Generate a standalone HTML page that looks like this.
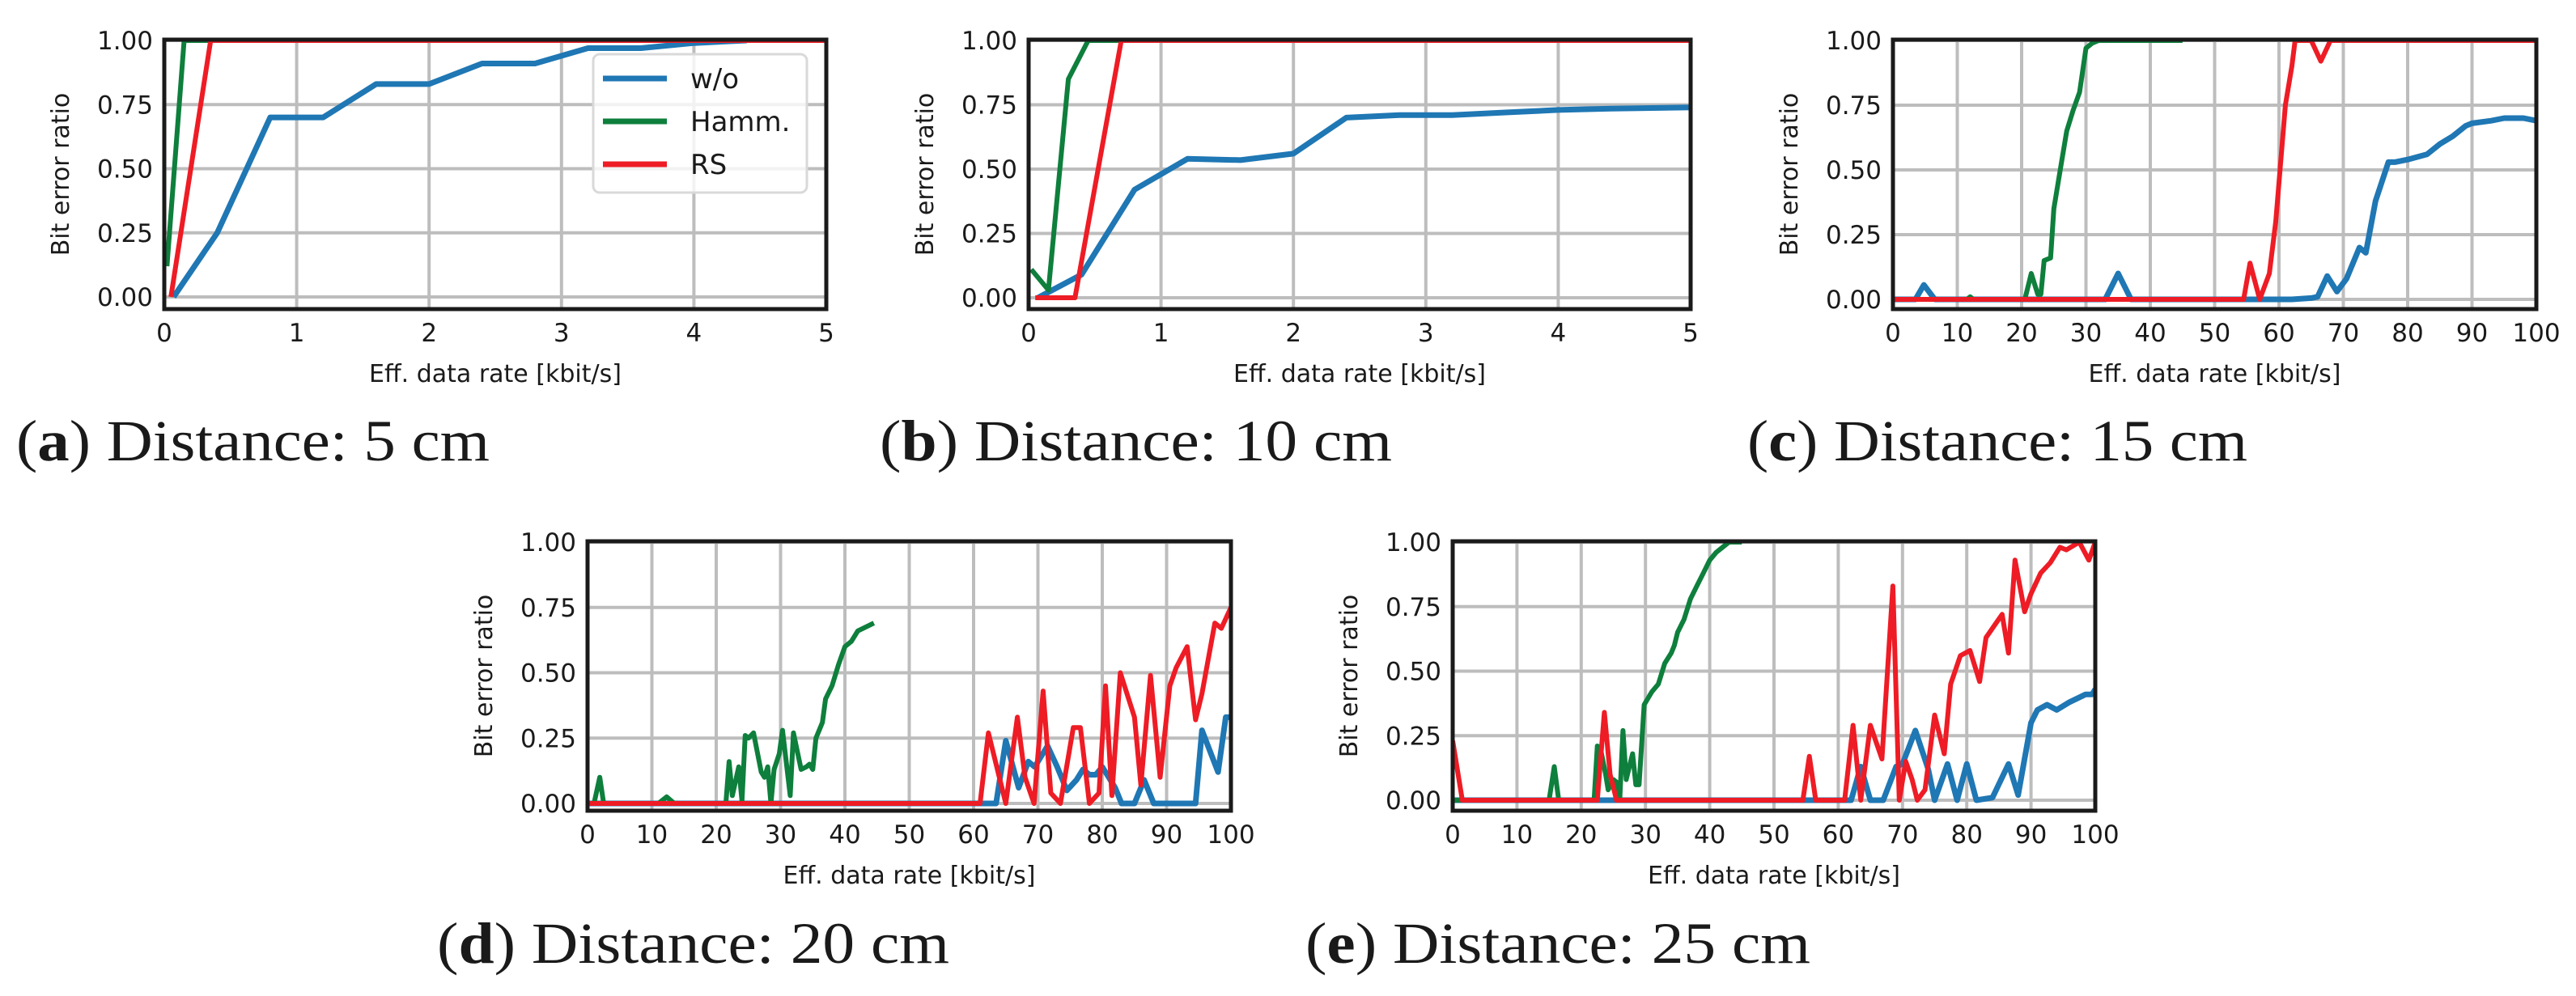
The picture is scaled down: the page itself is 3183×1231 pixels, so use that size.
<!DOCTYPE html>
<html><head><meta charset="utf-8"><style>
html,body{margin:0;padding:0;background:#fff;}
svg{display:block;}
text{font-family:"DejaVu Sans","Liberation Sans",sans-serif;fill:#1a1a1a;}
.cap{font-family:"Liberation Serif",serif;}
</style></head><body>
<svg id="fig" width="3183" height="1231" viewBox="0 0 3183 1231" xmlns="http://www.w3.org/2000/svg"></svg>
<script>
// ---- data ----
const ticksSmall = [0,1,2,3,4,5];
const ticksLarge = [0,10,20,30,40,50,60,70,80,90,100];
const yTicks = [0,0.25,0.5,0.75,1.0];
const yTickLabels = ["0.00","0.25","0.50","0.75","1.00"];
const seriesNames = ["w/o","Hamm.","RS"];
const captions = ["Distance: 5 cm","Distance: 10 cm","Distance: 15 cm","Distance: 20 cm","Distance: 25 cm"];
const captionLetters = ["a","b","c","d","e"];

const aBlue = [[0.07,0],[0.4,0.25],[0.8,0.70],[1.2,0.70],[1.6,0.83],[2.0,0.83],[2.4,0.91],[2.8,0.91],[3.2,0.97],[3.6,0.97],[4.0,0.99],[4.4,1.0]];
const aGreen = [[0.02,0.12],[0.15,1.0],[5,1.0]];
const aRed = [[0.05,0],[0.35,1.0],[5,1.0]];

const bBlue = [[0.07,0],[0.4,0.09],[0.8,0.42],[1.2,0.54],[1.6,0.535],[2.0,0.56],[2.4,0.70],[2.8,0.71],[3.2,0.71],[3.6,0.72],[4.0,0.73],[4.4,0.735],[5.0,0.74]];
const bGreen = [[0.02,0.11],[0.15,0.03],[0.3,0.85],[0.45,1.0],[5,1.0]];
const bRed = [[0.05,0],[0.35,0],[0.7,1.0],[5,1.0]];

const cBlue = [[0,0],[3.5,0],[4.8,0.056],[6.5,0],[33,0],[35,0.1],[37,0],[62,0],[65,0.005],[66,0.01],[67.5,0.09],[69,0.03],[70.5,0.08],[72.5,0.20],[73.5,0.18],[75,0.38],[77,0.53],[78,0.53],[80,0.54],[83,0.56],[85,0.6],[87,0.63],[89,0.67],[90,0.68],[93,0.69],[95,0.70],[98,0.70],[100,0.69]];
const cGreen = [[0,0],[11.5,0],[12,0.01],[12.5,0],[20.5,0],[21.5,0.1],[22.5,0.02],[23,0.02],[23.5,0.15],[24.5,0.16],[25,0.35],[26,0.5],[27,0.65],[28,0.73],[29,0.80],[30,0.97],[31,0.99],[32,1.0],[45,1.0]];
const cRed = [[0,0],[54.5,0],[55.5,0.14],[57,0],[58.5,0.1],[59.5,0.3],[61,0.75],[62,0.9],[62.5,1.0],[65,1.0],[66.5,0.92],[68,1.0],[100,1.0]];

const dBlue = [[0,0],[63.5,0],[65,0.24],[67,0.06],[68.5,0.16],[69.5,0.14],[71.5,0.22],[73,0.14],[74.5,0.05],[76,0.09],[77,0.13],[78,0.11],[79,0.11],[80,0.14],[81,0.1],[82,0.06],[83,0],[85,0],[86.5,0.09],[88,0],[94.5,0],[95.5,0.28],[98,0.12],[99.2,0.33],[100,0.33]];
const dGreen = [[0,0],[1,0],[1.9,0.1],[2.5,0],[11,0],[12.3,0.025],[13.5,0],[21.5,0],[22,0.16],[22.5,0.03],[23.5,0.14],[24,0.01],[24.5,0.26],[25,0.25],[25.8,0.27],[27,0.12],[27.5,0.1],[28,0.14],[28.5,0],[29,0.13],[29.8,0.19],[30.3,0.28],[31.5,0.03],[32,0.27],[33.2,0.13],[34,0.14],[34.5,0.15],[35,0.13],[35.5,0.25],[36.5,0.31],[37,0.40],[38,0.45],[39,0.53],[40,0.60],[41,0.62],[42,0.66],[44.5,0.69]];
const dRed = [[0,0],[61,0],[62.3,0.27],[64,0.1],[65,0],[66.8,0.33],[68,0.1],[69.4,0],[70.8,0.43],[72,0.04],[73.5,0],[75.5,0.29],[76.6,0.29],[78,0],[79.5,0.04],[80.5,0.45],[81.5,0.03],[82.8,0.50],[85,0.33],[86,0.07],[87.5,0.49],[89,0.1],[90.5,0.45],[91.5,0.52],[93.2,0.6],[94.5,0.32],[95.5,0.42],[97.5,0.69],[98.5,0.67],[100,0.75]];

const eBlue = [[0,0],[62,0],[63.5,0.13],[65,0],[67,0],[69,0.13],[70,0.14],[72,0.27],[74,0.12],[75,0],[77,0.14],[78.5,0],[80,0.14],[81.5,0],[84,0.01],[86.5,0.14],[88,0.02],[90,0.3],[91,0.35],[92.5,0.37],[94,0.35],[96,0.38],[98.5,0.41],[99.5,0.41],[100,0.43]];
const eGreen = [[0,0],[15,0],[15.8,0.13],[16.5,0],[22,0],[22.5,0.21],[23,0.2],[23.8,0.1],[24.2,0.04],[25,0.08],[25.5,0.07],[26,0],[26.5,0.27],[27,0.08],[27.5,0.13],[28,0.18],[28.5,0.06],[29,0.06],[29.8,0.37],[31,0.42],[32,0.45],[33,0.53],[34,0.57],[34.5,0.6],[35,0.65],[36,0.7],[37,0.78],[38,0.83],[39,0.88],[40,0.93],[41,0.96],[42,0.98],[43,1.0],[45,1.0]];
const eRed = [[0,0.23],[1.5,0],[22.5,0],[23.6,0.34],[24.5,0.1],[25.5,0],[54.5,0],[55.5,0.17],[56.5,0],[61,0],[62.3,0.29],[63.5,0],[65,0.29],[66.8,0.16],[68.5,0.83],[69.5,0],[70.5,0.15],[71.5,0.08],[72.3,0],[73.5,0.04],[75,0.33],[76.5,0.18],[77.5,0.45],[79,0.56],[80.5,0.58],[82,0.46],[83,0.63],[85.5,0.72],[86.5,0.57],[87.5,0.93],[89,0.73],[90,0.8],[91.5,0.88],[93,0.92],[94.5,0.98],[95.5,0.97],[97.5,1.0],[99,0.93],[100,1.0]];

// ---- layout ----
const NS = "http://www.w3.org/2000/svg";
const svg = document.getElementById('fig');
const COLORS = ["#1f77b4","#0e7f3c","#ee1c25"];
const WIDTHS = [7,6,6];
const panels = [
  {id:"a",L:203,R:1021,T:49,B:382,y0:367,y1:50,xmax:5,ticks:ticksSmall,series:[aBlue,aGreen,aRed],cx:20,cw:585,cy:569,legend:true},
  {id:"b",L:1271,R:2089,T:49,B:382,y0:368,y1:50,xmax:5,ticks:ticksSmall,series:[bBlue,bGreen,bRed],cx:1087,cw:633,cy:569},
  {id:"c",L:2339,R:3134,T:49,B:382,y0:370,y1:50,xmax:100,ticks:ticksLarge,series:[cBlue,cGreen,cRed],cx:2159,cw:618,cy:569},
  {id:"d",L:726,R:1521,T:669,B:1002,y0:993,y1:670,xmax:100,ticks:ticksLarge,series:[dBlue,dGreen,dRed],cx:540,cw:633,cy:1190},
  {id:"e",L:1795,R:2589,T:669,B:1002,y0:989,y1:670,xmax:100,ticks:ticksLarge,series:[eBlue,eGreen,eRed],cx:1613,cw:624,cy:1190}
];
function mk(tag, attrs, parent){
  const el = document.createElementNS(NS, tag);
  for (const k in attrs) el.setAttribute(k, attrs[k]);
  (parent||svg).appendChild(el);
  return el;
}
panels.forEach((p, pi) => {
  const g = mk('g', {});
  
  
  const xs = v => p.L + (v / p.xmax) * (p.R - p.L);
  const ys = v => p.y0 + v * (p.y1 - p.y0);
  const clip = mk('clipPath', {id:'clip'+p.id}, g);
  mk('rect', {x:p.L, y:p.T, width:p.R-p.L, height:p.B-p.T}, clip);
  p.ticks.forEach(t => {
    const l = mk('line', {x1:xs(t), x2:xs(t), y1:p.T, y2:p.B, stroke:'#bdbdbd','stroke-width':4}, g);
    
    
    const tx = mk('text', {x:xs(t), y:p.B+40, 'font-size':31, 'text-anchor':'middle'}, g);
    tx.textContent = t;
    
    
  });
  yTicks.forEach((t, i) => {
    const l = mk('line', {x1:p.L, x2:p.R, y1:ys(t), y2:ys(t), stroke:'#bdbdbd','stroke-width':4}, g);
    
    
    const tx = mk('text', {x:p.L-14, y:ys(t)+11, 'font-size':31, 'text-anchor':'end'}, g);
    tx.textContent = yTickLabels[i];
    
    
  });
  p.series.forEach((s, si) => {
    const d = s.map((pt, k) => (k ? 'L' : 'M') + xs(pt[0]).toFixed(1) + ',' + ys(pt[1]).toFixed(1)).join(' ');
    const path = mk('path', {d:d, fill:'none', stroke:COLORS[si], 'stroke-width':WIDTHS[si], 'stroke-linejoin':'round', 'clip-path':'url(#clip'+p.id+')'}, g);
    
    
  });
  const fr = mk('rect', {x:p.L, y:p.T, width:p.R-p.L, height:p.B-p.T, fill:'none', stroke:'#1a1a1a', 'stroke-width':5}, g);
  
  
  const xl = mk('text', {x:(p.L+p.R)/2, y:p.B+90, 'font-size':30, 'text-anchor':'middle'}, g);
  xl.textContent = 'Eff. data rate [kbit/s]';
  
  
  const yc = (p.T+p.B)/2, yx = p.L-118;
  const yl = mk('text', {x:yx, y:yc, 'font-size':30, 'text-anchor':'middle', transform:'rotate(-90 '+yx+' '+yc+')'}, g);
  yl.textContent = 'Bit error ratio';
  
  
  const cap = mk('text', {x:p.cx, y:p.cy, 'font-size':72, 'class':'cap', textLength:p.cw, lengthAdjust:'spacingAndGlyphs'}, g);
  
  
  const t1 = mk('tspan', {}, cap); t1.textContent = '(';
  const t2 = mk('tspan', {'font-weight':'bold'}, cap); t2.textContent = captionLetters[pi];
  const t3 = mk('tspan', {}, cap); t3.textContent = ') ' + captions[pi];
  if (p.legend) {
    const lg = mk('g', {}, g);
    
    
    mk('rect', {x:733, y:67, width:264, height:171, rx:8, fill:'rgba(255,255,255,0.8)', stroke:'#d9d9d9', 'stroke-width':3}, lg);
    seriesNames.forEach((n, i) => {
      const ly = 97 + i*53;
      const ln = mk('line', {x1:745, x2:824, y1:ly, y2:ly, stroke:COLORS[i], 'stroke-width':7}, lg);
      
      
      const lt = mk('text', {x:853, y:ly+12, 'font-size':34}, lg);
      lt.textContent = n;
      
      
    });
  }
});
</script>
</body></html>
